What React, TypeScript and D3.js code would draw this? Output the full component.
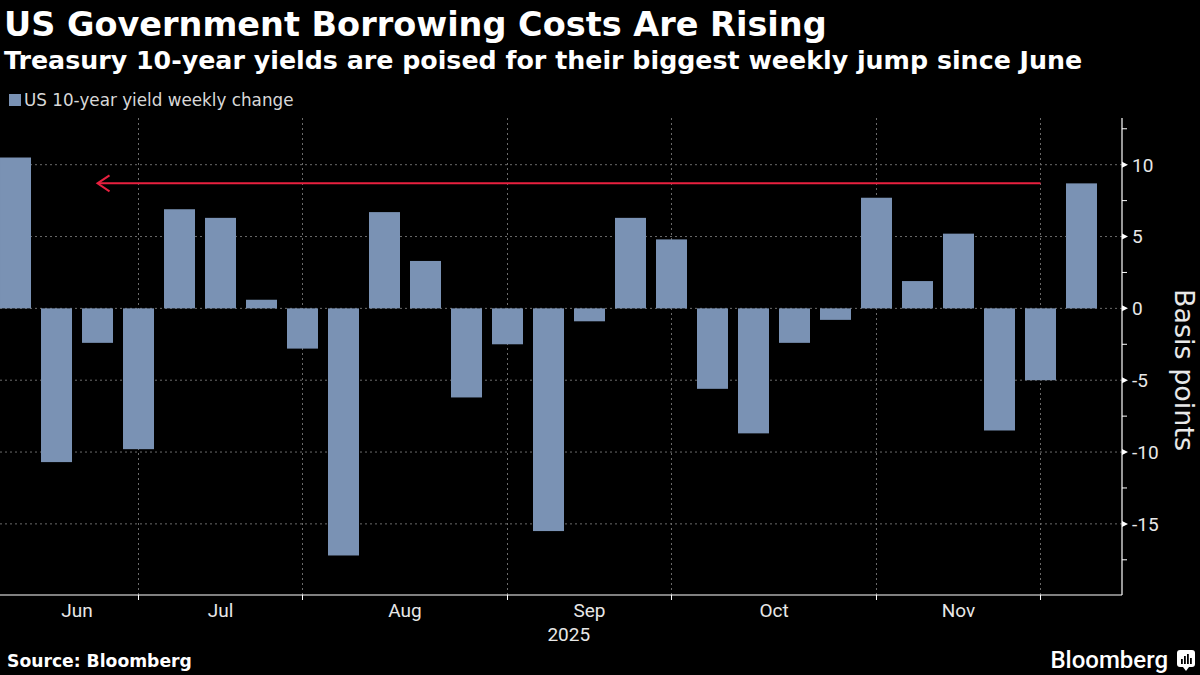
import { useEffect, useRef } from "react"
import * as d3 from "d3"

// Week-ending dates (Fridays) and weekly change in the 10-year yield, bp
const weeks = [
  "2025-06-13", "2025-06-20", "2025-06-27", "2025-07-04", "2025-07-11", "2025-07-18",
  "2025-07-25", "2025-08-01", "2025-08-08", "2025-08-15", "2025-08-22", "2025-08-29",
  "2025-09-05", "2025-09-12", "2025-09-19", "2025-09-26", "2025-10-03", "2025-10-10",
  "2025-10-17", "2025-10-24", "2025-10-31", "2025-11-07", "2025-11-14", "2025-11-21",
  "2025-11-28", "2025-12-05", "2025-12-12",
]
const weeklyChange = [
  10.5, -10.7, -2.4, -9.8, 6.9, 6.3, 0.6, -2.8, -17.2, 6.7, 3.3, -6.2, -2.5, -15.5,
  -0.9, 6.3, 4.8, -5.6, -8.7, -2.4, -0.8, 7.7, 1.9, 5.2, -8.5, -5.0, 8.7,
]
const yTicks = [10, 5, 0, -5, -10, -15]
const monthNames = ["Jan", "Feb", "Mar", "Apr", "May", "Jun", "Jul", "Aug", "Sep", "Oct", "Nov", "Dec"]

const W = 1200
const H = 675
const BAR = "#7a92b4"
const RED = "#e8203f"
const GRID = "#6b6b6b"
const FONT = "Roboto, 'Open Sans', sans-serif"
const WIDE = "'DejaVu Sans', sans-serif"

export default function App() {
  const svgRef = useRef<SVGSVGElement>(null)

  useEffect(() => {
    if (!svgRef.current) return
    const svg = d3.select(svgRef.current)
    svg.selectAll("*").remove()

    const plot = { left: 0, right: 1122, top: 118, bottom: 595 }

    const x = d3.scaleBand<string>()
      .domain(weeks)
      .range([-25, plot.right])
      .paddingInner(0.244)
      .paddingOuter(0.61)

    const y = d3.scaleLinear()
      .domain([-19.95, 13.25])
      .range([plot.bottom, plot.top])

    const cx = (d: string) => (x(d) ?? 0) + x.bandwidth() / 2

    svg.append("rect").attr("width", W).attr("height", H).attr("fill", "#000")

    // titles
    svg.append("text")
      .attr("x", 4).attr("y", 36)
      .style("font-family", WIDE).style("font-weight", 700).style("font-size", "33.5px")
      .attr("fill", "#fff")
      .text("US Government Borrowing Costs Are Rising")

    svg.append("text")
      .attr("x", 4).attr("y", 69)
      .style("font-family", WIDE).style("font-weight", 700).style("font-size", "25.3px")
      .attr("fill", "#fff")
      .text("Treasury 10-year yields are poised for their biggest weekly jump since June")

    // legend
    svg.append("rect")
      .attr("x", 9).attr("y", 94).attr("width", 12).attr("height", 12)
      .attr("fill", BAR)
    svg.append("text")
      .attr("x", 24).attr("y", 106)
      .style("font-family", WIDE).style("font-size", "16.8px")
      .attr("fill", "#d8d8d8")
      .text("US 10-year yield weekly change")

    // month boundaries: first week of each month
    const firstOfMonth = weeks.filter((d, i) => i > 0 && d.slice(5, 7) !== weeks[i - 1].slice(5, 7))

    const g = svg.append("g")

    g.selectAll("line.hgrid")
      .data(yTicks)
      .join("line")
      .attr("x1", plot.left).attr("x2", plot.right)
      .attr("y1", d => y(d)).attr("y2", d => y(d))
      .attr("stroke", GRID).attr("stroke-width", 1)
      .attr("stroke-dasharray", "2,3")

    g.selectAll("line.vgrid")
      .data(firstOfMonth)
      .join("line")
      .attr("x1", d => cx(d)).attr("x2", d => cx(d))
      .attr("y1", plot.top).attr("y2", plot.bottom)
      .attr("stroke", GRID).attr("stroke-width", 1)
      .attr("stroke-dasharray", "2,3")

    // bars
    g.selectAll("rect.bar")
      .data(weeks)
      .join("rect")
      .attr("x", d => x(d) ?? 0)
      .attr("width", x.bandwidth())
      .attr("y", (d, i) => y(Math.max(0, weeklyChange[i])))
      .attr("height", (d, i) => Math.abs(y(weeklyChange[i]) - y(0)))
      .attr("fill", BAR)

    // arrow from the latest week back to the last comparable jump
    const last = weeklyChange[weeklyChange.length - 1]
    const ay = y(last)
    const ax1 = cx(firstOfMonth[firstOfMonth.length - 1])
    const ax0 = cx(weeks[2])
    g.append("line")
      .attr("x1", ax0 + 1).attr("x2", ax1)
      .attr("y1", ay).attr("y2", ay)
      .attr("stroke", RED).attr("stroke-width", 2)
    g.append("path")
      .attr("d", `M${ax0 + 12},${ay - 8} L${ax0},${ay} L${ax0 + 12},${ay + 8}`)
      .attr("fill", "none").attr("stroke", RED).attr("stroke-width", 2)

    // x axis
    g.append("line")
      .attr("x1", plot.left).attr("x2", plot.right)
      .attr("y1", plot.bottom).attr("y2", plot.bottom)
      .attr("stroke", "#fff").attr("stroke-width", 1.2)
    g.selectAll("line.xtick")
      .data(firstOfMonth)
      .join("line")
      .attr("x1", d => cx(d)).attr("x2", d => cx(d))
      .attr("y1", plot.bottom).attr("y2", plot.bottom + 5)
      .attr("stroke", "#fff")

    const starts = [weeks[0], ...firstOfMonth]
    const labelled = starts.slice(0, -1).map((d, i) => ({
      name: monthNames[+d.slice(5, 7) - 1],
      pos: (cx(d) + cx(starts[i + 1])) / 2,
    }))
    g.selectAll("text.month")
      .data(labelled)
      .join("text")
      .attr("x", d => d.pos).attr("y", 617)
      .attr("text-anchor", "middle")
      .style("font-family", FONT).style("font-size", "19px")
      .attr("fill", "#e8e8e8")
      .text(d => d.name)

    g.append("text")
      .attr("x", (cx(weeks[0]) + plot.right) / 2).attr("y", 641)
      .attr("text-anchor", "middle")
      .style("font-family", FONT).style("font-size", "19px")
      .attr("fill", "#e8e8e8")
      .text("2025")

    // y axis on the right
    g.append("line")
      .attr("x1", plot.right).attr("x2", plot.right)
      .attr("y1", plot.top).attr("y2", plot.bottom)
      .attr("stroke", "#fff").attr("stroke-width", 1.2)

    const minor = d3.range(-17.5, 13, 5)
    g.selectAll("line.minor")
      .data(minor)
      .join("line")
      .attr("x1", plot.right).attr("x2", plot.right + 5)
      .attr("y1", d => y(d)).attr("y2", d => y(d))
      .attr("stroke", "#fff")

    g.selectAll("path.major")
      .data(yTicks)
      .join("path")
      .attr("d", d => `M${plot.right},${y(d) - 3} L${plot.right + 6},${y(d)} L${plot.right},${y(d) + 3}Z`)
      .attr("fill", "#fff")

    g.selectAll("text.ytick")
      .data(yTicks)
      .join("text")
      .attr("x", plot.right + 10)
      .attr("y", d => y(d))
      .attr("dy", "0.36em")
      .style("font-family", FONT).style("font-size", "19px")
      .attr("fill", "#e8e8e8")
      .text(d => (d < 0 ? `-${Math.abs(d)}` : `${d}`))

    g.append("text")
      .attr("transform", `translate(1175,370) rotate(90)`)
      .attr("text-anchor", "middle")
      .style("font-family", WIDE).style("font-size", "27px")
      .attr("fill", "#e8e8e8")
      .text("Basis points")

    // footer
    svg.append("text")
      .attr("x", 7).attr("y", 667)
      .style("font-family", WIDE).style("font-weight", 700).style("font-size", "17.2px")
      .attr("fill", "#fff")
      .text("Source: Bloomberg")

    svg.append("text")
      .attr("x", 1168).attr("y", 668)
      .attr("text-anchor", "end")
      .style("font-family", FONT).style("font-weight", 500).style("font-size", "24px")
      .attr("fill", "#fff")
      .text("Bloomberg")

    const logo = svg.append("g").attr("transform", "translate(1177,650)")
    logo.append("rect").attr("width", 18).attr("height", 17).attr("rx", 3).attr("fill", "#fff")
    logo.append("path").attr("d", "M6,17 L9,21 L12,17Z").attr("fill", "#fff")
    ;[[4, 9], [7, 6], [10, 4], [13, 8]].forEach(([bx, by]) => {
      logo.append("rect").attr("x", bx).attr("y", by).attr("width", 1.8).attr("height", 14 - by).attr("fill", "#000")
    })
  }, [])

  return (
    <div style={{ position: "fixed", top: 0, left: 0, width: W, height: H, background: "#000" }}>
      <svg ref={svgRef} width={W} height={H} viewBox={`0 0 ${W} ${H}`} style={{ display: "block" }} />
    </div>
  )
}
